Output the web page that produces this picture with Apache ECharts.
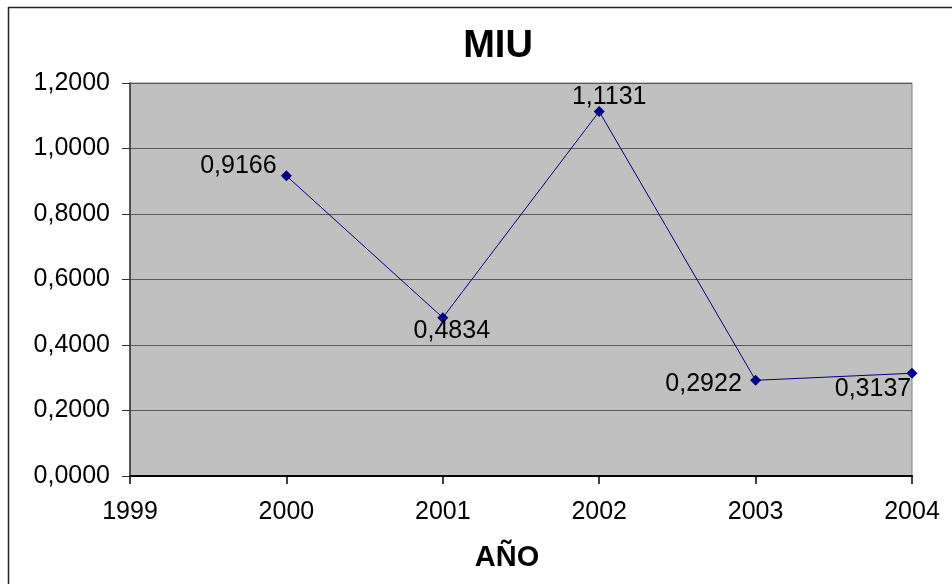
<!DOCTYPE html>
<html>
<head>
<meta charset="utf-8">
<script src="https://cdn.jsdelivr.net/npm/echarts@6/dist/echarts.min.js"></script>
<style>
  html, body { margin: 0; padding: 0; background: #fff; }
  #chart { width: 952px; height: 584px; }
</style>
</head>
<body>
<div id="chart"></div>
<script>
// MIU per year
const years = [2000, 2001, 2002, 2003, 2004];
const miu = [0.9166, 0.4834, 1.1131, 0.2922, 0.3137];
// where each value label sits relative to its point (px)
const labelOffsets = [[-48, -10], [9, 13], [10, -14], [-52, 4], [-39, 16]];

const FONT = "'Liberation Sans', Arial, sans-serif";
const fmt4 = v => v.toFixed(4).replace('.', ',');

const chart = echarts.init(document.getElementById('chart'), null, { renderer: 'canvas' });

chart.setOption({
  animation: false,
  backgroundColor: '#ffffff',
  title: {
    text: 'MIU',
    left: 493,
    top: 23,
    textAlign: 'center',
    textStyle: { fontFamily: FONT, fontSize: 38, fontWeight: 'bold', color: '#000' }
  },
  graphic: [
    {
      type: 'rect',
      shape: { x: 8.5, y: 7.5, width: 960, height: 600 },
      style: { fill: 'none', stroke: '#222', lineWidth: 1.5 },
      z: -10
    },
    {
      type: 'text',
      x: 507, y: 558,
      style: {
        text: 'AÑO', fontFamily: FONT, fontSize: 29, fontWeight: 'bold',
        fill: '#000', textAlign: 'center', textVerticalAlign: 'middle'
      }
    }
  ],
  grid: {
    left: 130, top: 83, right: 40, bottom: 108,
    show: true, backgroundColor: '#C0C0C0', borderColor: '#808080', borderWidth: 1
  },
  xAxis: {
    type: 'value',
    min: 1999, max: 2004, interval: 1,
    axisLine: { show: true, onZero: false, lineStyle: { color: '#000', width: 2 } },
    axisTick: { show: true, length: 8, lineStyle: { color: '#000', width: 1.5 } },
    axisLabel: { fontFamily: FONT, fontSize: 25, color: '#000', margin: 24, formatter: v => String(v) },
    splitLine: { show: false }
  },
  yAxis: {
    type: 'value',
    min: 0, max: 1.2, interval: 0.2,
    axisLine: { show: true, lineStyle: { color: '#333', width: 1.5 } },
    axisTick: { show: true, length: 8, lineStyle: { color: '#333', width: 1 } },
    axisLabel: { fontFamily: FONT, fontSize: 25, color: '#000', margin: 20, formatter: v => fmt4(v) },
    splitLine: { show: true, lineStyle: { color: '#5a5a5a', width: 1 } }
  },
  series: [{
    type: 'line',
    data: years.map((y, i) => ({
      value: [y, miu[i]],
      label: { offset: labelOffsets[i] }
    })),
    symbol: 'diamond',
    symbolSize: 11,
    lineStyle: { color: '#000080', width: 1 },
    itemStyle: { color: '#000080' },
    label: {
      show: true,
      position: 'inside',
      fontFamily: FONT, fontSize: 25, color: '#000',
      formatter: p => fmt4(p.value[1])
    }
  }]
});
</script>
</body>
</html>
